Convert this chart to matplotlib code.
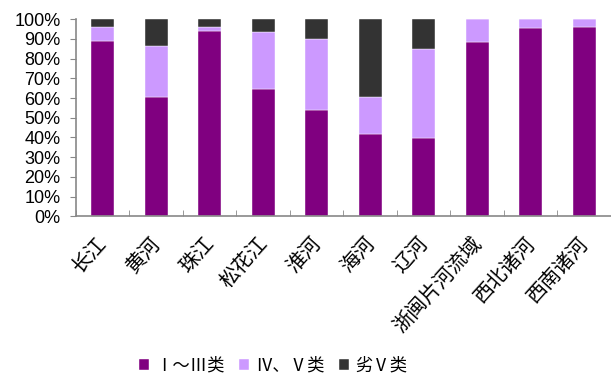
import matplotlib
matplotlib.use("Agg")
import matplotlib.pyplot as plt
import numpy as np

plt.rcParams['font.family'] = ['Noto Sans CJK SC', 'DejaVu Sans']

basins = ["长江", "黄河", "珠江", "松花江", "淮河", "海河", "辽河",
          "浙闽片河流域", "西北诸河", "西南诸河"]
grade_1_3 = [88.8, 60.7, 93.9, 64.6, 53.7, 41.7, 39.5, 88.3, 95.4, 95.9]
grade_4_5 = [7.5, 25.6, 2.0, 28.8, 36.1, 18.6, 45.2, 11.7, 4.6, 4.1]
grade_worse = [3.7, 13.7, 4.1, 6.6, 10.2, 39.7, 15.3, 0.0, 0.0, 0.0]
series_labels = ["Ⅰ～Ⅲ类", "Ⅳ、Ⅴ类", "劣Ⅴ类"]
colors = ["#800080", "#CC99FF", "#333333"]

fig = plt.figure(figsize=(6.11, 3.78), dpi=100)
ax = fig.add_axes([0.124, 0.428, 0.876, 0.521])

x = np.arange(len(basins))
width = 0.43
bottom = np.zeros(len(basins))
for vals, lab, col in zip([grade_1_3, grade_4_5, grade_worse], series_labels, colors):
    vals = np.array(vals)
    ax.bar(x, vals, width, bottom=bottom, color=col, label=lab,
           edgecolor="#ffffff", linewidth=0.3)
    bottom += vals

ax.set_xlim(-0.5, len(basins) - 0.5)
ax.set_ylim(0, 100)
ax.set_yticks(np.arange(0, 101, 10))
ax.set_yticklabels([f"{v}%" for v in range(0, 101, 10)],
                   fontsize=13, family="Liberation Sans")

# category labels, tick marks at category boundaries
ax.set_xticks(x - 0.12)
ax.set_xticklabels(basins, rotation=48, ha="right", rotation_mode="anchor",
                   fontsize=14.5)
ax.tick_params(axis="x", length=0, pad=12)
ax.set_xticks(np.arange(-0.5, len(basins)), minor=True)
ax.tick_params(axis="x", which="minor", direction="in", length=4,
               color="#888888")
ax.tick_params(axis="y", direction="out", length=4, color="#888888", pad=7)

for side in ["top", "right"]:
    ax.spines[side].set_visible(False)
for side in ["left", "bottom"]:
    ax.spines[side].set_color("#888888")
    ax.spines[side].set_linewidth(1.2)

fig.legend(loc="center", bbox_to_anchor=(0.447, 0.034), ncol=3, frameon=False,
           fontsize=12.5, handlelength=0.6, handleheight=0.6, handletextpad=0.35,
           columnspacing=0.8)

plt.savefig("out.png", dpi=100)
plt.close()
